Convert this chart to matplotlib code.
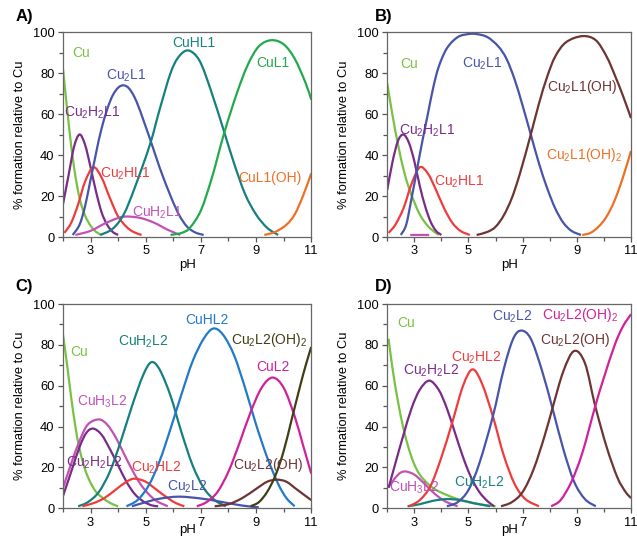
import numpy as np
import matplotlib
matplotlib.use('Agg')
import matplotlib.pyplot as plt
from matplotlib.path import Path
from matplotlib.patches import PathPatch

plt.rcParams['font.family'] = ['Liberation Sans', 'DejaVu Sans']
plt.rcParams['mathtext.default'] = 'regular'

# ---- data: (pH, % formation relative to Cu) ----
# A)
a_cu = [(2.0, 82), (2.2, 56), (2.4, 34), (2.6, 19), (2.8, 10.5), (3.0, 5.5), (3.2, 2.5), (3.4, 1)]
a_cu2h2l1 = [(2.0, 16), (2.2, 30), (2.4, 44), (2.6, 50), (2.8, 45), (3.0, 34), (3.2, 22), (3.4, 12),
             (3.6, 6), (3.8, 2.5), (4.0, 1)]
a_cu2hl1 = [(2.05, 2), (2.3, 7), (2.55, 16), (2.8, 27), (3.1, 34), (3.4, 29), (3.7, 19), (4.0, 10),
            (4.3, 5), (4.55, 2.5), (4.85, 1)]
a_cu2l1 = [(2.35, 1), (2.6, 6), (2.8, 15), (3.0, 28), (3.4, 53), (3.8, 69), (4.2, 74), (4.6, 68),
           (5.15, 48), (5.5, 34), (5.9, 20), (6.2, 11), (6.5, 5), (6.8, 2.2), (7.1, 1)]
a_cuh2l1 = [(2.45, 1), (3.0, 3), (3.5, 6.5), (4.0, 9.3), (4.3, 10), (4.8, 9.3), (5.3, 7), (5.8, 3.5), (6.25, 1)]
a_cuhl1 = [(3.35, 1), (3.8, 4), (4.2, 11), (4.6, 24), (5.15, 45), (5.5, 62), (5.9, 80), (6.2, 88),
           (6.55, 91), (6.95, 86), (7.35, 72), (7.85, 51), (8.2, 36), (8.6, 21), (9.0, 11), (9.4, 4.5), (9.8, 1)]
a_cul1 = [(5.9, 1), (6.3, 2), (6.6, 4.5), (7.0, 13), (7.4, 29), (7.85, 51), (8.3, 70), (8.7, 84),
          (9.1, 93), (9.55, 96), (10.0, 94), (10.4, 87), (10.8, 75), (11.0, 67)]
a_cul1oh = [(9.3, 1), (9.7, 2.5), (10.1, 6), (10.4, 11), (10.7, 20), (11.0, 31)]

# B)
b_cu = [(2.0, 75), (2.2, 59), (2.4, 45), (2.6, 33), (2.8, 24), (3.0, 17), (3.2, 11), (3.4, 7), (3.6, 4), (3.9, 1)]
b_cu2h2l1 = [(2.0, 23), (2.2, 37), (2.4, 47), (2.6, 50), (2.8, 46), (3.0, 37), (3.2, 25), (3.4, 15),
             (3.6, 7.5), (3.8, 3), (4.0, 1)]
b_cu2hl1 = [(2.05, 2), (2.3, 6), (2.6, 14), (2.9, 26), (3.2, 34), (3.5, 31), (3.8, 23), (4.1, 14),
            (4.4, 7), (4.7, 3), (5.05, 1)]
b_cuh2l1 = [(2.85, 1), (3.55, 1)]
b_cu2l1 = [(2.5, 1), (2.7, 6), (2.9, 19), (3.1, 33), (3.3, 47), (3.5, 60), (3.7, 73), (3.9, 83), (4.2, 92),
           (4.6, 97.5), (5.0, 99), (5.3, 99), (5.7, 97.5), (6.1, 93), (6.4, 87), (6.7, 77), (7.0, 64),
           (7.3, 50), (7.6, 36), (7.9, 24), (8.2, 14), (8.5, 7), (8.8, 3), (9.15, 1)]
b_cu2l1oh = [(5.3, 1), (5.7, 2.5), (6.0, 5), (6.3, 10.5), (6.6, 19), (6.9, 31), (7.3, 50), (7.6, 65),
             (7.9, 78), (8.2, 88), (8.6, 95), (9.2, 98), (9.7, 96), (10.1, 88), (10.4, 79), (10.7, 69), (11.0, 58)]
b_cu2l1oh2 = [(9.2, 1), (9.5, 2), (9.8, 5), (10.1, 10), (10.4, 18), (10.7, 29), (11.0, 42)]

# C)
c_cu = [(2.0, 85), (2.15, 70), (2.3, 54), (2.45, 40), (2.6, 29), (2.8, 19), (3.0, 12.5), (3.2, 8),
        (3.4, 5.5), (3.6, 3.5), (3.8, 2), (4.0, 1)]
c_cuh3l2 = [(2.0, 10), (2.3, 22), (2.6, 33), (2.9, 41), (3.3, 43.5), (3.6, 41), (3.9, 35), (4.2, 27),
            (4.5, 19), (4.8, 12), (5.1, 7), (5.4, 3.5), (5.8, 1)]
c_cu2h2l2 = [(2.0, 6), (2.3, 18), (2.6, 30), (2.85, 37), (3.1, 39), (3.4, 36), (3.7, 29), (4.0, 21),
             (4.3, 13), (4.6, 7), (4.9, 3.5), (5.2, 1.5), (5.45, 1)]
c_cuh2l2 = [(2.55, 1), (2.9, 3), (3.3, 8), (3.7, 18), (4.1, 33), (4.5, 50), (4.9, 65), (5.2, 71.5),
            (5.5, 68), (5.9, 55), (6.3, 37), (6.7, 21), (7.1, 10), (7.5, 4), (7.9, 1)]
c_cuhl2 = [(4.3, 1), (4.7, 4), (5.1, 11), (5.5, 23), (5.9, 39), (6.3, 56), (6.7, 72), (7.1, 83),
           (7.45, 88), (7.8, 85), (8.2, 75), (8.6, 59), (9.0, 41), (9.4, 25), (9.8, 12), (10.1, 5), (10.4, 1)]
c_cul2 = [(6.85, 1), (7.2, 3), (7.6, 8), (8.0, 18), (8.4, 32), (8.8, 47), (9.2, 59), (9.6, 64),
          (10.0, 59), (10.4, 45), (10.7, 31), (11.0, 17)]
c_cu2l2oh2 = [(8.8, 1), (9.1, 3), (9.4, 8), (9.7, 16), (10.0, 28), (10.3, 44), (10.6, 60), (10.8, 70), (11.0, 79)]
c_cu2l2oh = [(7.5, 1), (8.0, 2), (8.5, 5), (9.0, 9.5), (9.4, 13), (9.75, 14), (10.1, 13), (10.5, 9), (11.0, 4)]
c_cu2hl2 = [(2.7, 1), (3.1, 2.5), (3.5, 5), (3.9, 9), (4.3, 13), (4.6, 14.5), (5.0, 13), (5.4, 9),
            (5.8, 5), (6.1, 2.5), (6.4, 1)]
c_cu2l2 = [(4.5, 1), (5.0, 3), (5.5, 4.7), (6.2, 5.7), (7.0, 4.8), (7.6, 3.5), (8.2, 2), (8.7, 1), (9.1, 0.5)]

# D)
d_cu = [(2.05, 83), (2.2, 68), (2.4, 52), (2.6, 39), (2.8, 29), (3.0, 21.5), (3.2, 16.5), (3.5, 12),
        (3.8, 9), (4.2, 6.5), (4.6, 4.5), (5.0, 3), (5.5, 1.8), (6.0, 1)]
d_cuh3l2 = [(2.05, 10.5), (2.3, 15), (2.5, 17.5), (2.7, 18), (3.0, 16.5), (3.3, 13), (3.6, 9),
            (3.9, 5.5), (4.2, 3), (4.6, 1)]
d_cu2h2l2 = [(2.05, 10), (2.3, 22), (2.6, 36), (2.9, 49), (3.2, 58), (3.55, 62.5), (3.9, 58), (4.2, 49),
             (4.5, 37), (4.8, 25), (5.1, 15), (5.4, 8), (5.7, 3.5), (5.95, 1)]
d_cuh2l2 = [(2.75, 1), (3.2, 2), (3.7, 3.7), (4.2, 4.5), (4.7, 4), (5.2, 2.5), (5.8, 1)]
d_cu2hl2 = [(2.8, 1), (3.2, 4), (3.6, 11), (4.0, 25), (4.4, 42), (4.8, 60), (5.15, 68), (5.5, 61),
            (5.9, 45), (6.3, 26), (6.7, 12), (7.1, 4.5), (7.6, 1)]
d_cu2l2 = [(4.2, 1), (4.6, 3), (5.0, 9), (5.4, 22), (5.9, 45), (6.3, 68), (6.65, 83), (6.95, 87),
           (7.3, 83), (7.7, 68), (8.1, 49), (8.5, 29), (8.9, 13), (9.3, 4.5), (9.7, 1)]
d_cu2l2oh = [(6.2, 1), (6.6, 3), (7.0, 8), (7.4, 19), (7.8, 35), (8.1, 49), (8.5, 67), (8.9, 77),
             (9.3, 71), (9.68, 50), (10.1, 30), (10.5, 15), (10.8, 8), (11.0, 5)]
d_cu2l2oh2 = [(8.05, 1), (8.4, 4), (8.8, 13), (9.2, 27), (9.68, 50), (10.0, 64), (10.4, 80), (10.7, 89), (11.0, 95)]

# colours
LIGHT_GREEN = '#79c143'
GREEN = '#22a94b'
TEAL = '#15807d'
BLUE = '#4654aa'
SKY = '#2179c8'
PURPLE = '#7a2b88'
RED = '#ef3b3b'
ORANGE = '#ee7023'
PINK = '#c251b6'
MAGENTA = '#d0219b'
BROWN = '#6e3432'
OLIVE = '#3f3e14'


def smooth_line(ax, pts, color):
    # Catmull-Rom through the read points, drawn as cubic bezier
    pts = np.asarray(pts, dtype=float)
    ext = np.vstack([pts[0], pts, pts[-1]])
    verts = [pts[0]]
    codes = [Path.MOVETO]
    for i in range(len(pts) - 1):
        p0, p1, p2, p3 = ext[i], ext[i + 1], ext[i + 2], ext[i + 3]
        verts += [p1 + (p2 - p0) / 6, p2 - (p3 - p1) / 6, p2]
        codes += [Path.CURVE4] * 3
    ax.add_patch(PathPatch(Path(verts, codes), fill=False, edgecolor=color, lw=1.6,
                           capstyle='butt', joinstyle='round'))


def setup_axes(ax, labelpad_x):
    ax.set_xlim(2, 11)
    ax.set_ylim(0, 100)
    ax.set_xticks([3, 5, 7, 9, 11])
    ax.set_xticks([2, 4, 6, 8, 10], minor=True)
    ax.set_yticks(np.arange(0, 101, 20))
    ax.set_yticks(np.arange(10, 100, 20), minor=True)
    ax.tick_params(which='both', direction='out', color='#555555', labelsize=9.3, pad=2.5)
    ax.tick_params(which='major', length=3.5, width=0.9)
    ax.tick_params(which='minor', length=2.8, width=0.9)
    for s in ax.spines.values():
        s.set_color('#666666')
        s.set_linewidth(0.9)
    ax.set_xlabel('pH', fontsize=9.5, labelpad=labelpad_x)
    ax.set_ylabel('% formation relative to Cu', fontsize=9.3, labelpad=5)


def draw_panel(ax, curves, labels, labelpad_x):
    for pts, color in curves:
        smooth_line(ax, pts, color)
    for text, x, y, color in labels:
        ax.text(x, y, text, color=color, fontsize=10, ha='left', va='center')
    setup_axes(ax, labelpad_x)


fig = plt.figure(figsize=(6.37, 5.40), dpi=100)
ax_a = fig.add_axes([0.0989, 0.5611, 0.3897, 0.3796])
ax_b = fig.add_axes([0.6079, 0.5611, 0.3827, 0.3796])
ax_c = fig.add_axes([0.0989, 0.0587, 0.3897, 0.3783])
ax_d = fig.add_axes([0.6079, 0.0587, 0.3827, 0.3783])

draw_panel(ax_a,
           [(a_cu, LIGHT_GREEN), (a_cu2h2l1, PURPLE), (a_cu2hl1, RED), (a_cu2l1, BLUE),
            (a_cuh2l1, PINK), (a_cuhl1, TEAL), (a_cul1, GREEN), (a_cul1oh, ORANGE)],
           [('Cu', 2.35, 90, LIGHT_GREEN), ('Cu$_2$L1', 3.55, 78.5, BLUE), ('CuHL1', 5.95, 94.5, TEAL),
            ('CuL1', 9.0, 85, GREEN), ('Cu$_2$H$_2$L1', 2.05, 60.5, PURPLE), ('Cu$_2$HL1', 3.33, 31, RED),
            ('CuL1(OH)', 8.35, 29, ORANGE), ('CuH$_2$L1', 4.49, 12, PINK)],
           1.5)

draw_panel(ax_b,
           [(b_cu, LIGHT_GREEN), (b_cu2h2l1, PURPLE), (b_cu2hl1, RED), (b_cuh2l1, PINK),
            (b_cu2l1, BLUE), (b_cu2l1oh, BROWN), (b_cu2l1oh2, ORANGE)],
           [('Cu', 2.49, 84.5, LIGHT_GREEN), ('Cu$_2$L1', 4.76, 84.5, BLUE), ('Cu$_2$L1(OH)', 7.91, 73, BROWN),
            ('Cu$_2$H$_2$L1', 2.45, 51.6, PURPLE), ('Cu$_2$HL1', 3.73, 27, RED),
            ('Cu$_2$L1(OH)$_2$', 7.85, 40, ORANGE)],
           1.5)

draw_panel(ax_c,
           [(c_cu, LIGHT_GREEN), (c_cuh3l2, PINK), (c_cu2h2l2, PURPLE), (c_cuh2l2, TEAL),
            (c_cu2hl2, RED), (c_cu2l2, BLUE), (c_cuhl2, SKY), (c_cul2, MAGENTA),
            (c_cu2l2oh, BROWN), (c_cu2l2oh2, OLIVE)],
           [('Cu', 2.25, 76.7, LIGHT_GREEN), ('CuH$_2$L2', 4.01, 81.5, TEAL), ('CuHL2', 6.43, 92, SKY),
            ('Cu$_2$L2(OH)$_2$', 8.1, 82.4, OLIVE), ('CuL2', 8.99, 69.3, MAGENTA),
            ('CuH$_3$L2', 2.52, 52.2, PINK), ('Cu$_2$H$_2$L2', 2.12, 22.5, PURPLE),
            ('Cu$_2$HL2', 4.48, 19.6, RED), ('Cu$_2$L2', 5.78, 10.3, BLUE),
            ('Cu$_2$L2(OH)', 8.16, 21.2, BROWN)],
           -3)

draw_panel(ax_d,
           [(d_cu, LIGHT_GREEN), (d_cuh3l2, PINK), (d_cu2h2l2, PURPLE), (d_cuh2l2, TEAL),
            (d_cu2hl2, RED), (d_cu2l2, BLUE), (d_cu2l2oh, BROWN), (d_cu2l2oh2, MAGENTA)],
           [('Cu', 2.36, 90.7, LIGHT_GREEN), ('Cu$_2$L2', 5.85, 93.9, BLUE),
            ('Cu$_2$L2(OH)$_2$', 7.73, 94.8, MAGENTA), ('Cu$_2$L2(OH)', 7.63, 82.2, BROWN),
            ('Cu$_2$HL2', 4.36, 73.8, RED), ('Cu$_2$H$_2$L2', 2.57, 67.5, PURPLE),
            ('CuH$_3$L2', 2.05, 9.8, PINK), ('CuH$_2$L2', 4.45, 12.7, TEAL)],
           -3)

for letter, x, y in [('A)', 0.024, 0.969), ('B)', 0.589, 0.969), ('C)', 0.024, 0.469), ('D)', 0.589, 0.469)]:
    fig.text(x, y, letter, fontsize=12, fontweight='bold', ha='left', va='center')

fig.savefig('out.png', dpi=100)
